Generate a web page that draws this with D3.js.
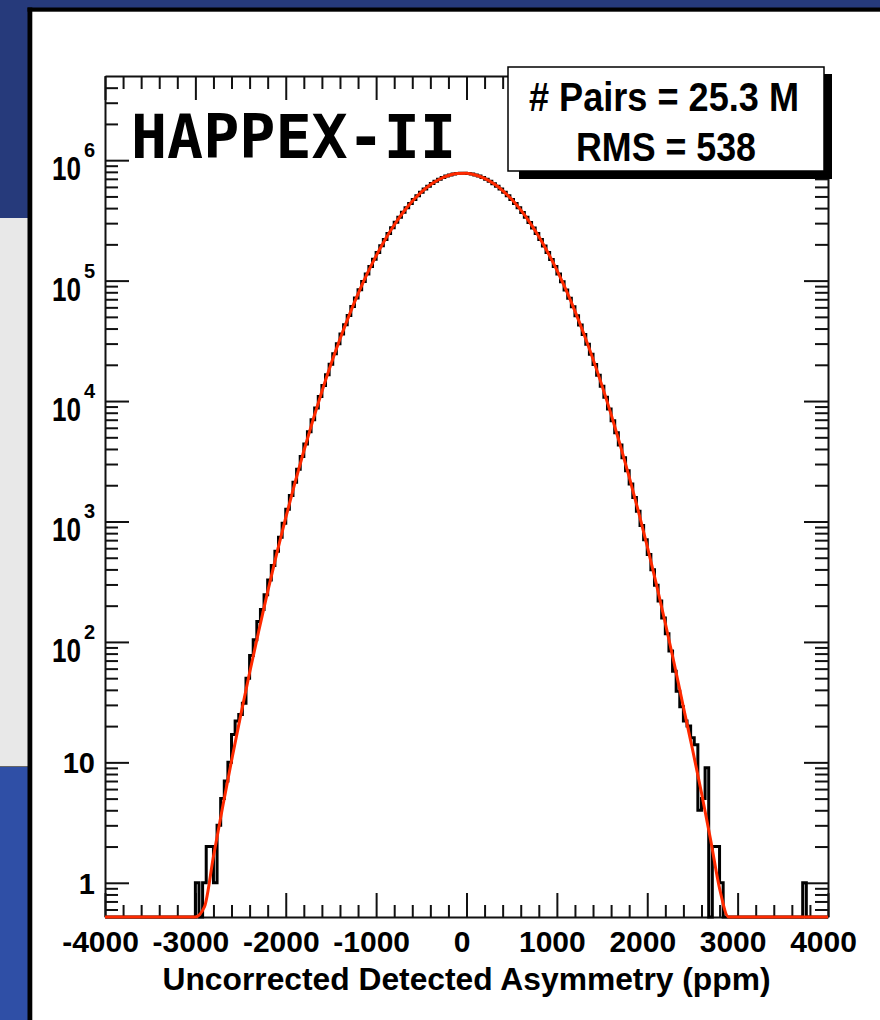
<!DOCTYPE html>
<html>
<head>
<meta charset="utf-8">
<script src="https://cdn.jsdelivr.net/npm/d3@7"></script>
<style>
  html, body { margin: 0; padding: 0; background: #fff; }
  svg { display: block; }
</style>
</head>
<body>
<script>
// Histogram of pair asymmetries: 200 bins of 40 ppm, from -4000 to 4000
const binLow = -4000;
const binWidth = 40;
const counts = [
  0, 0, 0, 0, 0, 0, 0, 0, 0, 0,
  0, 0, 0, 0, 0, 0, 0, 0, 0, 0,
  0, 0, 0, 0, 0, 1, 0, 1, 2, 2,
  1, 3, 5, 7, 10, 17, 22, 25, 31, 50,
  77, 104, 148, 186, 247, 326, 431, 566, 741, 968,
  1262, 1641, 2118, 2712, 3465, 4396, 5561, 6988, 8742, 10884,
  13452, 16558, 20250, 24660, 29880, 35990, 43080, 51390, 60870, 71780,
  84090, 98110, 113700, 131100, 150400, 171500, 194600, 219600, 246300, 274700,
  304800, 336500, 369300, 403100, 437600, 472500, 507400, 541800, 575500, 608000,
  638900, 667800, 694100, 717500, 737600, 754300, 767000, 775600, 780000, 779800,
  775500, 766900, 754000, 737500, 717400, 693900, 667600, 638700, 607800, 575200,
  541400, 506900, 471900, 437000, 402400, 368600, 335800, 304200, 274100, 245700,
  219000, 194000, 171000, 149900, 130700, 113300, 97700, 83760, 71480, 60610,
  51130, 42850, 35770, 29680, 24470, 20080, 16390, 13300, 10740, 8610,
  6874, 5455, 4306, 3381, 2640, 2051, 1584, 1216, 928, 705,
  532, 398, 296, 219, 158, 117, 84, 57, 39, 29,
  22, 20, 16, 14, 4, 5, 9, 0, 2, 2,
  1, 0, 0, 0, 0, 0, 0, 0, 0, 0,
  0, 0, 0, 0, 0, 0, 0, 0, 0, 0,
  0, 0, 0, 1, 0, 0, 0, 0, 0, 0
];

// Gaussian fit curve, read every 100 ppm
const fitX = [
  -4000, -3900, -3800, -3700, -3600, -3500, -3400, -3300, -3200, -3100,
  -3000, -2900, -2800, -2700, -2600, -2500, -2400, -2300, -2200, -2100,
  -2000, -1900, -1800, -1700, -1600, -1500, -1400, -1300, -1200, -1100,
  -1000, -900, -800, -700, -600, -500, -400, -300, -200, -100,
  0, 100, 200, 300, 400, 500, 600, 700, 800, 900,
  1000, 1100, 1200, 1300, 1400, 1500, 1600, 1700, 1800, 1900,
  2000, 2100, 2200, 2300, 2400, 2500, 2600, 2700, 2800, 2900,
  3000, 3100, 3200, 3300, 3400, 3500, 3600, 3700, 3800, 3900,
  4000
];
const fitY = [
  1.6e-6, 6.2e-6, 2.3e-5, 8.2e-5, 2.8e-4, 9.5e-4, 0.0031, 0.0095, 0.029, 0.083,
  0.23, 0.63, 1.65, 4.2, 10.3, 24.3, 55.5, 122, 262, 540,
  1075, 2070, 3850, 6920, 12020, 20180, 32720, 51260, 77650, 113600,
  160600, 219500, 289700, 369600, 455600, 542600, 624500, 694600, 746500, 775200,
  777900, 754200, 706600, 639700, 559700, 473100, 386400, 305000, 232600, 171400,
  122100, 84030, 55850, 35890, 22290, 13370, 7750, 4340, 2350, 1229,
  621, 303, 143, 65.2, 28.8, 12.9, 5.6, 2.3, 0.9, 0.34,
  0.12, 0.04, 0.012, 0.0038, 0.0012, 3.6e-4, 1.1e-4, 3.0e-5, 8.2e-6, 2.1e-6,
  5.5e-7
];

// axis ticks and labels
const xTicks = [-4000, -3000, -2000, -1000, 0, 1000, 2000, 3000, 4000];
const xTickLabels = ['-4000', '-3000', '-2000', '-1000', '0', '1000', '2000', '3000', '4000'];
const yDecades = [1, 10, 1e2, 1e3, 1e4, 1e5, 1e6];
const yExponents = [0, 1, 2, 3, 4, 5, 6];
const xTitle = 'Uncorrected Detected Asymmetry (ppm)';
const statsLines = ['# Pairs = 25.3 M', 'RMS = 538'];
const tag = 'HAPPEX-II';

const W = 880, H = 1020;
const FONT = '"Liberation Sans", Arial, sans-serif';

const svg = d3.select('body').append('svg')
  .attr('width', W)
  .attr('height', H);

// slide background around the plot
svg.append('rect').attr('width', W).attr('height', H).attr('fill', '#fff');
svg.append('rect').attr('x', 0).attr('y', 0).attr('width', W).attr('height', 8).attr('fill', '#263a7b');
svg.append('rect').attr('x', 0).attr('y', 0).attr('width', 28).attr('height', 218).attr('fill', '#263a7b');
svg.append('rect').attr('x', 0).attr('y', 218).attr('width', 28).attr('height', 549).attr('fill', '#e8e8e8');
svg.append('rect').attr('x', 0).attr('y', 766).attr('width', 28).attr('height', 1).attr('fill', '#666');
svg.append('rect').attr('x', 0).attr('y', 767).attr('width', 28).attr('height', 253).attr('fill', '#2f4fa6');
svg.append('rect').attr('x', 27.5).attr('y', 7.5).attr('width', W - 27.5).attr('height', 4.2).attr('fill', '#000');
svg.append('rect').attr('x', 27.5).attr('y', 7.5).attr('width', 4.8).attr('height', H).attr('fill', '#000');

// scales
const x = d3.scaleLinear().domain([-4000, 4000]).range([105, 828]);
const y = d3.scaleLog().domain([0.52, 5e6]).range([917, 76]).clamp(true);

const xMinor = d3.range(-4000, 4001, 200).filter(v => v % 1000 !== 0);
const yMinor = [];
[0.1, 1, 10, 1e2, 1e3, 1e4, 1e5, 1e6].forEach(d => {
  for (let m = 2; m <= 9; m++) {
    const v = m * d;
    if (v > 0.52 && v < 5e6) yMinor.push(v);
  }
});

function styleAxis(g) {
  g.attr('color', '#111');
  g.selectAll('.tick line').attr('stroke-width', 2);
  g.select('.domain').attr('stroke-width', 2);
}

// bottom axis
const gBottom = svg.append('g')
  .attr('transform', 'translate(0,917)')
  .call(d3.axisBottom(x).tickValues(xTicks).tickSize(-24).tickSizeOuter(0)
    .tickPadding(14).tickFormat((d, i) => xTickLabels[i]));
styleAxis(gBottom);
gBottom.selectAll('.tick text')
  .attr('font-size', 30)
  .attr('font-family', FONT)
  .attr('font-weight', 'bold')
  .attr('fill', '#000')
  .attr('dx', -5);
const gBottomMinor = svg.append('g')
  .attr('transform', 'translate(0,917)')
  .call(d3.axisBottom(x).tickValues(xMinor).tickSize(-12).tickSizeOuter(0).tickFormat(''));
gBottomMinor.select('.domain').remove();
styleAxis(gBottomMinor);

// top axis (mirror ticks)
const gTop = svg.append('g')
  .attr('transform', 'translate(0,76)')
  .call(d3.axisTop(x).tickValues(xTicks).tickSize(-24).tickSizeOuter(0).tickFormat(''));
styleAxis(gTop);
const gTopMinor = svg.append('g')
  .attr('transform', 'translate(0,76)')
  .call(d3.axisTop(x).tickValues(xMinor).tickSize(-13).tickSizeOuter(0).tickFormat(''));
gTopMinor.select('.domain').remove();
styleAxis(gTopMinor);

// left axis
const gLeft = svg.append('g')
  .attr('transform', 'translate(105,0)')
  .call(d3.axisLeft(y).tickValues(yDecades).tickSize(-24).tickSizeOuter(0).tickFormat(''));
styleAxis(gLeft);
const gLeftMinor = svg.append('g')
  .attr('transform', 'translate(105,0)')
  .call(d3.axisLeft(y).tickValues(yMinor).tickSize(-13).tickSizeOuter(0).tickFormat(''));
gLeftMinor.select('.domain').remove();
styleAxis(gLeftMinor);

// right axis (mirror ticks)
const gRight = svg.append('g')
  .attr('transform', 'translate(828,0)')
  .call(d3.axisRight(y).tickValues(yDecades).tickSize(-24).tickSizeOuter(0).tickFormat(''));
styleAxis(gRight);
const gRightMinor = svg.append('g')
  .attr('transform', 'translate(828,0)')
  .call(d3.axisRight(y).tickValues(yMinor).tickSize(-13).tickSizeOuter(0).tickFormat(''));
gRightMinor.select('.domain').remove();
styleAxis(gRightMinor);

// y tick labels: 1, 10, then 10^n
const yLab = svg.append('g')
  .attr('font-family', FONT)
  .attr('font-weight', 'bold')
  .attr('fill', '#000');
yDecades.forEach((d, i) => {
  const e = yExponents[i];
  const ty = y(d);
  if (e < 2) {
    yLab.append('text')
      .attr('x', 95)
      .attr('y', ty + 11)
      .attr('text-anchor', 'end')
      .attr('font-size', 29)
      .text(e === 0 ? '1' : '10');
  } else {
    yLab.append('text')
      .attr('x', 52)
      .attr('y', ty + 20)
      .attr('font-size', 33)
      .attr('textLength', 29)
      .attr('lengthAdjust', 'spacingAndGlyphs')
      .text('10');
    yLab.append('text')
      .attr('x', 84)
      .attr('y', ty - 3)
      .attr('font-size', 20)
      .text(String(e));
  }
});

// x axis title
svg.append('text')
  .attr('x', 466.5)
  .attr('y', 990)
  .attr('text-anchor', 'middle')
  .attr('font-family', FONT)
  .attr('font-weight', 'bold')
  .attr('font-size', 32)
  .attr('textLength', 608)
  .attr('lengthAdjust', 'spacingAndGlyphs')
  .attr('fill', '#000')
  .text(xTitle);

// histogram as steps
const histPts = counts.map((c, i) => [binLow + i * binWidth, c]);
histPts.push([binLow + counts.length * binWidth, counts[counts.length - 1]]);

const stepLine = d3.line()
  .x(d => x(d[0]))
  .y(d => y(d[1]))
  .curve(d3.curveStepAfter);

svg.append('path')
  .datum(histPts)
  .attr('d', stepLine)
  .attr('fill', 'none')
  .attr('stroke', '#000')
  .attr('stroke-width', 3);

// fit curve
const fitLine = d3.line()
  .x(d => x(d[0]))
  .y(d => y(d[1]))
  .curve(d3.curveMonotoneX);

svg.append('path')
  .datum(fitX.map((v, i) => [v, fitY[i]]))
  .attr('d', fitLine)
  .attr('fill', 'none')
  .attr('stroke', '#ff2a00')
  .attr('stroke-width', 3)
  .attr('stroke-linejoin', 'round');

// stats box with shadow
svg.append('rect')
  .attr('x', 519).attr('y', 74)
  .attr('width', 313).attr('height', 105)
  .attr('fill', '#000');
svg.append('rect')
  .attr('x', 508).attr('y', 67)
  .attr('width', 316).attr('height', 104)
  .attr('fill', '#fff')
  .attr('stroke', '#000')
  .attr('stroke-width', 1.5);
svg.append('text')
  .attr('x', 664).attr('y', 111)
  .attr('text-anchor', 'middle')
  .attr('font-family', FONT).attr('font-weight', 'bold').attr('font-size', 40)
  .attr('textLength', 270).attr('lengthAdjust', 'spacingAndGlyphs')
  .attr('fill', '#000')
  .text(statsLines[0]);
svg.append('text')
  .attr('x', 666).attr('y', 161)
  .attr('text-anchor', 'middle')
  .attr('font-family', FONT).attr('font-weight', 'bold').attr('font-size', 40)
  .attr('textLength', 180).attr('lengthAdjust', 'spacingAndGlyphs')
  .attr('fill', '#000')
  .text(statsLines[1]);

// experiment tag
svg.append('text')
  .attr('x', 131).attr('y', 158)
  .attr('font-family', '"DejaVu Sans Mono", monospace')
  .attr('font-weight', 'bold')
  .attr('font-size', 60)
  .attr('fill', '#000')
  .text(tag);
</script>
</body>
</html>
